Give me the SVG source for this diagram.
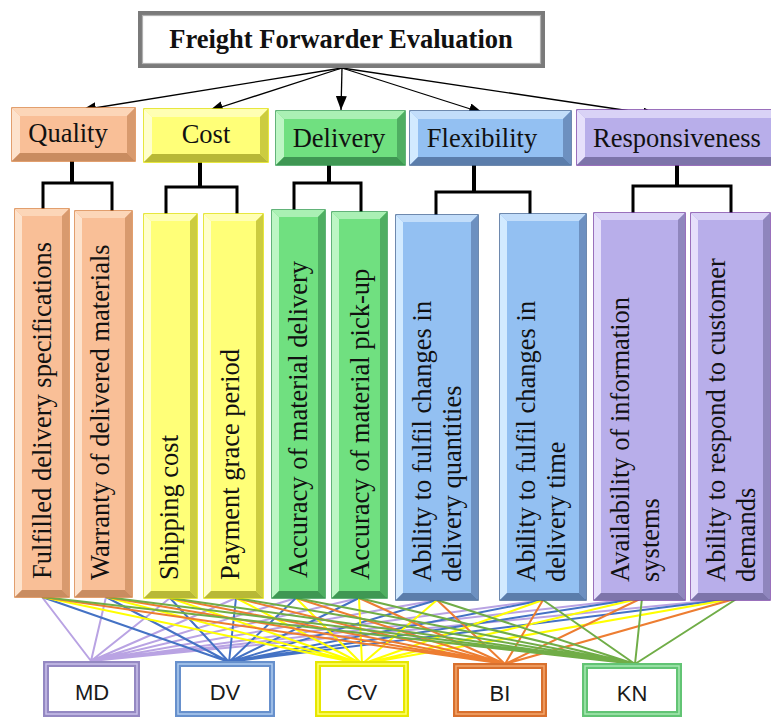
<svg xmlns="http://www.w3.org/2000/svg" width="771" height="718" viewBox="0 0 771 718">
<defs>
<marker id="ah" markerUnits="userSpaceOnUse" markerWidth="15" markerHeight="11" refX="14" refY="5.5" orient="auto">
<path d="M0,0 L14,5.5 L0,11 Z" fill="#000"/>
</marker>
</defs>
<style>
.edge{stroke-width:1.5}
.q .edge{fill:#f4ad7e;stroke:#d9803f}.q .hi{fill:#fcd6b8}.q .hl{fill:#fde2cc}.q .lo{fill:#c98c60}.q .lr{fill:#d89a6e}.q .face{fill:#f9bf97}
.c .edge{fill:#ffff66;stroke:#e0e000}.c .hi{fill:#ffffb4}.c .hl{fill:#ffffcc}.c .lo{fill:#b8b836}.c .lr{fill:#cccc40}.c .face{fill:#ffff78}
.d .edge{fill:#5fd870;stroke:#2f9a4d}.d .hi{fill:#aaf0b4}.d .hl{fill:#bdf6c4}.d .lo{fill:#3f9753}.d .lr{fill:#4fae62}.d .face{fill:#70e080}
.f .edge{fill:#86b5ee;stroke:#3f6394}.f .hi{fill:#c2ddfa}.f .hl{fill:#d2eaff}.f .lo{fill:#5b7dab}.f .lr{fill:#6d90c0}.f .face{fill:#93c0f2}
.r .edge{fill:#ada3e2;stroke:#7a42a6}.r .hi{fill:#d9d2f6}.r .hl{fill:#e6e0fb}.r .lo{fill:#7d74aa}.r .lr{fill:#8f86bd}.r .face{fill:#b8aeea}
.crit{font-family:"Liberation Serif","Times New Roman",serif;font-size:26.5px;fill:#111;text-anchor:middle}
.sub{font-family:"Liberation Serif","Times New Roman",serif;font-size:26.5px;fill:#111}
.title{font-family:"Liberation Serif","Times New Roman",serif;font-size:26.5px;font-weight:bold;fill:#111;text-anchor:middle}
.alt{font-family:"Liberation Sans",Arial,sans-serif;font-size:22px;fill:#1a1a1a;text-anchor:middle}
.arrow{stroke:#000;stroke-width:1.3;fill:none;marker-end:url(#ah)}
.tree{stroke:#000;stroke-width:3;fill:none;stroke-linejoin:miter}
.stem{stroke:#000;stroke-width:4;fill:none}
.ln{fill:none;stroke-width:2}
.frame{fill:#fff;stroke-width:6}
.frin{fill:none;stroke-width:1.5}
</style>
<rect width="771" height="718" fill="#fff"/>

<g id="connectors">
<g id="arrows">
<line class="arrow" x1="342" y1="68" x2="82" y2="110"/>
<line class="arrow" x1="342" y1="68" x2="209" y2="111"/>
<line class="arrow" x1="342" y1="68" x2="341" y2="110"/>
<line class="arrow" x1="342" y1="68" x2="483" y2="113"/>
<line class="arrow" x1="342" y1="68" x2="657" y2="115"/>
</g>
<g id="trees">
<path class="stem" d="M72 161V183M200 162V187M329 165V183M474 165V192M677 165V186"/>
<path class="tree" d="M43 210V183H112V212"/>
<path class="tree" d="M166 215V187H237V215"/>
<path class="tree" d="M294 211V183H361V213"/>
<path class="tree" d="M436 216V192H530V215"/>
<path class="tree" d="M633 214V186H731V214"/>
</g>
<g id="alt-links">
<path class="ln" stroke="#b9a3e3" d="M42 597L91 661M106 597L91 661M170 598L91 661M236 598L91 661M296 598L91 661M359 598L91 661M437 600L91 661M543 600L91 661M642 598L91 661M738 598L91 661"/>
<path class="ln" stroke="#4472c4" d="M42 597L229 662M106 597L229 662M170 598L229 662M236 598L229 662M296 598L229 662M359 598L229 662M437 600L229 662M543 600L229 662M642 598L229 662M738 598L229 662"/>
<path class="ln" stroke="#ffff00" d="M42 597L362 664M106 597L362 664M170 598L362 664M236 598L362 664M296 598L362 664M359 598L362 664M437 600L362 664M543 600L362 664M642 598L362 664M738 598L362 664"/>
<path class="ln" stroke="#ed7d31" d="M42 597L505 664M106 597L505 664M170 598L505 664M236 598L505 664M296 598L505 664M359 598L505 664M437 600L505 664M543 600L505 664M642 598L505 664M738 598L505 664"/>
<path class="ln" stroke="#70ad47" d="M42 597L635 664M106 597L635 664M170 598L635 664M236 598L635 664M296 598L635 664M359 598L635 664M437 600L635 664M543 600L635 664M642 598L635 664M738 598L635 664"/>
</g>
</g>

<g id="goal">
<rect x="140.5" y="13.5" width="402" height="52" fill="#fff" stroke="#7a7a7a" stroke-width="5"/>
<rect x="142.5" y="15.5" width="398" height="48" fill="none" stroke="#b0b0b0" stroke-width="1.2"/>
<text class="title" x="341" y="48">Freight Forwarder Evaluation</text>
</g>

<g id="quality" class="q">
<rect class="edge" x="12" y="108" width="123" height="53"/>
<polygon class="hi" points="12,108 135,108 127,116 20,116"/>
<polygon class="hl" points="12,108 20,116 20,153 12,161"/>
<polygon class="lr" points="135,108 135,161 127,153 127,116"/>
<polygon class="lo" points="12,161 20,153 127,153 135,161"/>
<rect class="face" x="20" y="116" width="107" height="37"/>
<text class="crit" x="68" y="142">Quality</text>
</g>
<g id="cost" class="c">
<rect class="edge" x="144" y="109" width="124" height="53"/>
<polygon class="hi" points="144,109 268,109 260,117 152,117"/>
<polygon class="hl" points="144,109 152,117 152,154 144,162"/>
<polygon class="lr" points="268,109 268,162 260,154 260,117"/>
<polygon class="lo" points="144,162 152,154 260,154 268,162"/>
<rect class="face" x="152" y="117" width="108" height="37"/>
<text class="crit" x="206" y="143">Cost</text>
</g>
<g id="delivery" class="d">
<rect class="edge" x="276" y="111" width="129" height="54"/>
<polygon class="hi" points="276,111 405,111 397,119 284,119"/>
<polygon class="hl" points="276,111 284,119 284,157 276,165"/>
<polygon class="lr" points="405,111 405,165 397,157 397,119"/>
<polygon class="lo" points="276,165 284,157 397,157 405,165"/>
<rect class="face" x="284" y="119" width="113" height="38"/>
<text class="crit" x="339" y="147">Delivery</text>
</g>
<g id="flexibility" class="f">
<rect class="edge" x="410" y="111" width="161" height="54"/>
<polygon class="hi" points="410,111 571,111 563,119 418,119"/>
<polygon class="hl" points="410,111 418,119 418,157 410,165"/>
<polygon class="lr" points="571,111 571,165 563,157 563,119"/>
<polygon class="lo" points="410,165 418,157 563,157 571,165"/>
<rect class="face" x="418" y="119" width="145" height="38"/>
<text class="crit" x="482" y="147">Flexibility</text>
</g>
<g id="responsiveness" class="r">
<rect class="edge" x="577" y="110" width="203" height="55"/>
<polygon class="hi" points="577,110 780,110 772,118 585,118"/>
<polygon class="hl" points="577,110 585,118 585,157 577,165"/>
<polygon class="lr" points="780,110 780,165 772,157 772,118"/>
<polygon class="lo" points="577,165 585,157 772,157 780,165"/>
<rect class="face" x="585" y="118" width="187" height="39"/>
<text class="crit" x="677" y="147">Responsiveness</text>
</g>

<g id="sub1" class="q">
<rect class="edge" x="15" y="209" width="54" height="388"/>
<polygon class="hi" points="15,209 69,209 62,216 22,216"/>
<polygon class="hl" points="15,209 22,216 22,590 15,597"/>
<polygon class="lr" points="69,209 69,597 62,590 62,216"/>
<polygon class="lo" points="15,597 22,590 62,590 69,597"/>
<rect class="face" x="22" y="216" width="40" height="374"/>
<text class="sub" transform="translate(51,579) rotate(-90)">Fulfilled delivery specifications</text>
</g>
<g id="sub2" class="q">
<rect class="edge" x="75" y="211" width="57" height="386"/>
<polygon class="hi" points="75,211 132,211 125,218 82,218"/>
<polygon class="hl" points="75,211 82,218 82,590 75,597"/>
<polygon class="lr" points="132,211 132,597 125,590 125,218"/>
<polygon class="lo" points="75,597 82,590 125,590 132,597"/>
<rect class="face" x="82" y="218" width="43" height="372"/>
<text class="sub" transform="translate(109,580) rotate(-90)">Warranty of delivered materials</text>
</g>
<g id="sub3" class="c">
<rect class="edge" x="144" y="214" width="53" height="384"/>
<polygon class="hi" points="144,214 197,214 190,221 151,221"/>
<polygon class="hl" points="144,214 151,221 151,591 144,598"/>
<polygon class="lr" points="197,214 197,598 190,591 190,221"/>
<polygon class="lo" points="144,598 151,591 190,591 197,598"/>
<rect class="face" x="151" y="221" width="39" height="370"/>
<text class="sub" transform="translate(178,580) rotate(-90)">Shipping cost</text>
</g>
<g id="sub4" class="c">
<rect class="edge" x="204" y="214" width="59" height="384"/>
<polygon class="hi" points="204,214 263,214 256,221 211,221"/>
<polygon class="hl" points="204,214 211,221 211,591 204,598"/>
<polygon class="lr" points="263,214 263,598 256,591 256,221"/>
<polygon class="lo" points="204,598 211,591 256,591 263,598"/>
<rect class="face" x="211" y="221" width="45" height="370"/>
<text class="sub" transform="translate(239,580) rotate(-90)">Payment grace period</text>
</g>
<g id="sub5" class="d">
<rect class="edge" x="272" y="210" width="53" height="388"/>
<polygon class="hi" points="272,210 325,210 318,217 279,217"/>
<polygon class="hl" points="272,210 279,217 279,591 272,598"/>
<polygon class="lr" points="325,210 325,598 318,591 318,217"/>
<polygon class="lo" points="272,598 279,591 318,591 325,598"/>
<rect class="face" x="279" y="217" width="39" height="374"/>
<text class="sub" transform="translate(307,578) rotate(-90)">Accuracy of material delivery</text>
</g>
<g id="sub6" class="d">
<rect class="edge" x="332" y="212" width="55" height="386"/>
<polygon class="hi" points="332,212 387,212 380,219 339,219"/>
<polygon class="hl" points="332,212 339,219 339,591 332,598"/>
<polygon class="lr" points="387,212 387,598 380,591 380,219"/>
<polygon class="lo" points="332,598 339,591 380,591 387,598"/>
<rect class="face" x="339" y="219" width="41" height="372"/>
<text class="sub" transform="translate(369,580) rotate(-90)">Accuracy of material pick-up</text>
</g>
<g id="sub7" class="f">
<rect class="edge" x="396" y="215" width="82" height="385"/>
<polygon class="hi" points="396,215 478,215 471,222 403,222"/>
<polygon class="hl" points="396,215 403,222 403,593 396,600"/>
<polygon class="lr" points="478,215 478,600 471,593 471,222"/>
<polygon class="lo" points="396,600 403,593 471,593 478,600"/>
<rect class="face" x="403" y="222" width="68" height="371"/>
<text class="sub" transform="translate(431,582) rotate(-90)"><tspan x="0" y="0">Ability to fulfil changes in</tspan><tspan x="0" y="30">delivery quantities</tspan></text>
</g>
<g id="sub8" class="f">
<rect class="edge" x="500" y="214" width="86" height="386"/>
<polygon class="hi" points="500,214 586,214 579,221 507,221"/>
<polygon class="hl" points="500,214 507,221 507,593 500,600"/>
<polygon class="lr" points="586,214 586,600 579,593 579,221"/>
<polygon class="lo" points="500,600 507,593 579,593 586,600"/>
<rect class="face" x="507" y="221" width="72" height="372"/>
<text class="sub" transform="translate(535,582) rotate(-90)"><tspan x="0" y="0">Ability to fulfil changes in</tspan><tspan x="0" y="30">delivery time</tspan></text>
</g>
<g id="sub9" class="r">
<rect class="edge" x="594" y="213" width="91" height="387"/>
<polygon class="hi" points="594,213 685,213 678,220 601,220"/>
<polygon class="hl" points="594,213 601,220 601,593 594,600"/>
<polygon class="lr" points="685,213 685,600 678,593 678,220"/>
<polygon class="lo" points="594,600 601,593 678,593 685,600"/>
<rect class="face" x="601" y="220" width="77" height="373"/>
<text class="sub" transform="translate(629,582) rotate(-90)"><tspan x="0" y="0">Availability of information</tspan><tspan x="0" y="30">systems</tspan></text>
</g>
<g id="sub10" class="r">
<rect class="edge" x="691" y="213" width="79" height="387"/>
<polygon class="hi" points="691,213 770,213 763,220 698,220"/>
<polygon class="hl" points="691,213 698,220 698,593 691,600"/>
<polygon class="lr" points="770,213 770,600 763,593 763,220"/>
<polygon class="lo" points="691,600 698,593 763,593 770,600"/>
<rect class="face" x="698" y="220" width="65" height="373"/>
<text class="sub" transform="translate(725,582) rotate(-90)"><tspan x="0" y="0">Ability to respond to customer</tspan><tspan x="0" y="30">demands</tspan></text>
</g>

<g id="alt-md">
<rect class="frame" x="46" y="664" width="91" height="50" stroke="#9488c2"/>
<rect class="frin" x="46" y="664" width="91" height="50" stroke="#c9c0ea"/>
<text class="alt" x="92" y="700">MD</text>
</g>
<g id="alt-dv">
<rect class="frame" x="178" y="664" width="94" height="50" stroke="#6790cc"/>
<rect class="frin" x="178" y="664" width="94" height="50" stroke="#aecbef"/>
<text class="alt" x="225" y="700">DV</text>
</g>
<g id="alt-cv">
<rect class="frame" x="318" y="664" width="88" height="50" stroke="#e6e600"/>
<rect class="frin" x="318" y="664" width="88" height="50" stroke="#ffff70"/>
<text class="alt" x="362" y="700">CV</text>
</g>
<g id="alt-bi">
<rect class="frame" x="456" y="666" width="88" height="48" stroke="#d8702e"/>
<rect class="frin" x="456" y="666" width="88" height="48" stroke="#f4a66c"/>
<text class="alt" x="500" y="701">BI</text>
</g>
<g id="alt-kn">
<rect class="frame" x="585" y="666" width="94" height="48" stroke="#62c474"/>
<rect class="frin" x="585" y="666" width="94" height="48" stroke="#a8e8b2"/>
<text class="alt" x="632" y="701">KN</text>
</g>
</svg>
